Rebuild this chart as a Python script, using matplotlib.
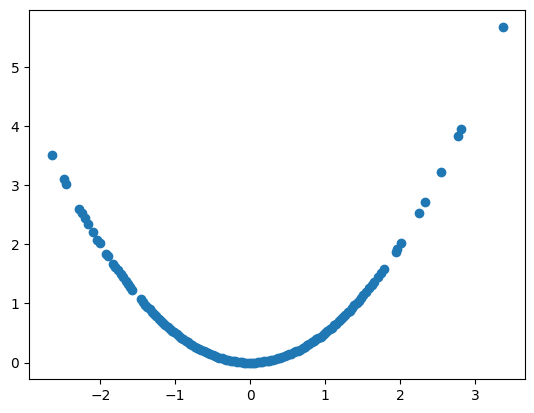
import matplotlib
matplotlib.use("Agg")
import matplotlib.pyplot as plt

x_left_tail = [-2.65, -2.49, -2.46, -2.28, -2.25, -2.21, -2.17, -2.10, -2.04, -2.01,
               -1.92, -1.90, -1.83, -1.80, -1.77, -1.73, -1.70, -1.66, -1.63, -1.60, -1.57]
y_left_tail = [3.51, 3.10, 3.03, 2.60, 2.53, 2.44, 2.35, 2.21, 2.08, 2.02,
               1.84, 1.81, 1.67, 1.62, 1.57, 1.50, 1.45, 1.38, 1.33, 1.28, 1.23]

x_core = [-1.46, -1.43, -1.40, -1.37, -1.34, -1.31, -1.28, -1.25, -1.22, -1.19,
          -1.16, -1.13, -1.10, -1.07, -1.04, -1.01, -0.98, -0.95, -0.92, -0.89,
          -0.86, -0.83, -0.80, -0.77, -0.74, -0.71, -0.68, -0.65, -0.62, -0.59,
          -0.56, -0.53, -0.50, -0.47, -0.44, -0.41, -0.38, -0.35, -0.32, -0.29,
          -0.26, -0.23, -0.20, -0.17, -0.14, -0.11, -0.08, -0.05, -0.02, 0.01,
          0.04, 0.07, 0.10, 0.13, 0.16, 0.19, 0.22, 0.25, 0.28, 0.31,
          0.34, 0.37, 0.40, 0.43, 0.46, 0.49, 0.52, 0.55, 0.58, 0.61,
          0.64, 0.67, 0.70, 0.73, 0.76, 0.79, 0.82, 0.85, 0.88, 0.91,
          0.94, 0.97, 1.00, 1.03, 1.06, 1.09, 1.12, 1.15, 1.18, 1.21,
          1.24, 1.27, 1.30, 1.33, 1.36, 1.39, 1.42, 1.45, 1.48, 1.51,
          1.55, 1.59, 1.62, 1.65, 1.70, 1.74, 1.78]
y_core = [1.07, 1.02, 0.98, 0.94, 0.90, 0.86, 0.82, 0.78, 0.74, 0.71,
          0.67, 0.64, 0.61, 0.57, 0.54, 0.51, 0.48, 0.45, 0.42, 0.40,
          0.37, 0.34, 0.32, 0.30, 0.27, 0.25, 0.23, 0.21, 0.19, 0.17,
          0.16, 0.14, 0.13, 0.11, 0.10, 0.08, 0.07, 0.06, 0.05, 0.04,
          0.03, 0.03, 0.02, 0.01, 0.01, 0.01, 0.00, 0.00, 0.00, 0.00,
          0.00, 0.00, 0.01, 0.01, 0.01, 0.02, 0.02, 0.03, 0.04, 0.05,
          0.06, 0.07, 0.08, 0.09, 0.11, 0.12, 0.14, 0.15, 0.17, 0.19,
          0.20, 0.22, 0.25, 0.27, 0.29, 0.31, 0.34, 0.36, 0.39, 0.41,
          0.44, 0.47, 0.50, 0.53, 0.56, 0.59, 0.63, 0.66, 0.70, 0.73,
          0.77, 0.81, 0.85, 0.88, 0.92, 0.97, 1.01, 1.05, 1.10, 1.14,
          1.20, 1.26, 1.31, 1.36, 1.45, 1.51, 1.58]

x_right_tail = [1.94, 1.96, 2.01, 2.25, 2.33, 2.54, 2.77, 2.81, 3.37]
y_right_tail = [1.88, 1.92, 2.02, 2.53, 2.71, 3.23, 3.84, 3.95, 5.68]

x_vals = x_left_tail + x_core + x_right_tail
y_vals = y_left_tail + y_core + y_right_tail

fig = plt.figure(figsize=(5.34, 4.13), dpi=100)
ax = fig.add_axes([0.0543, 0.0816, 0.9294, 0.8934])
ax.scatter(x_vals, y_vals, color="#1f77b4")
fig.savefig("out.png", dpi=100)
